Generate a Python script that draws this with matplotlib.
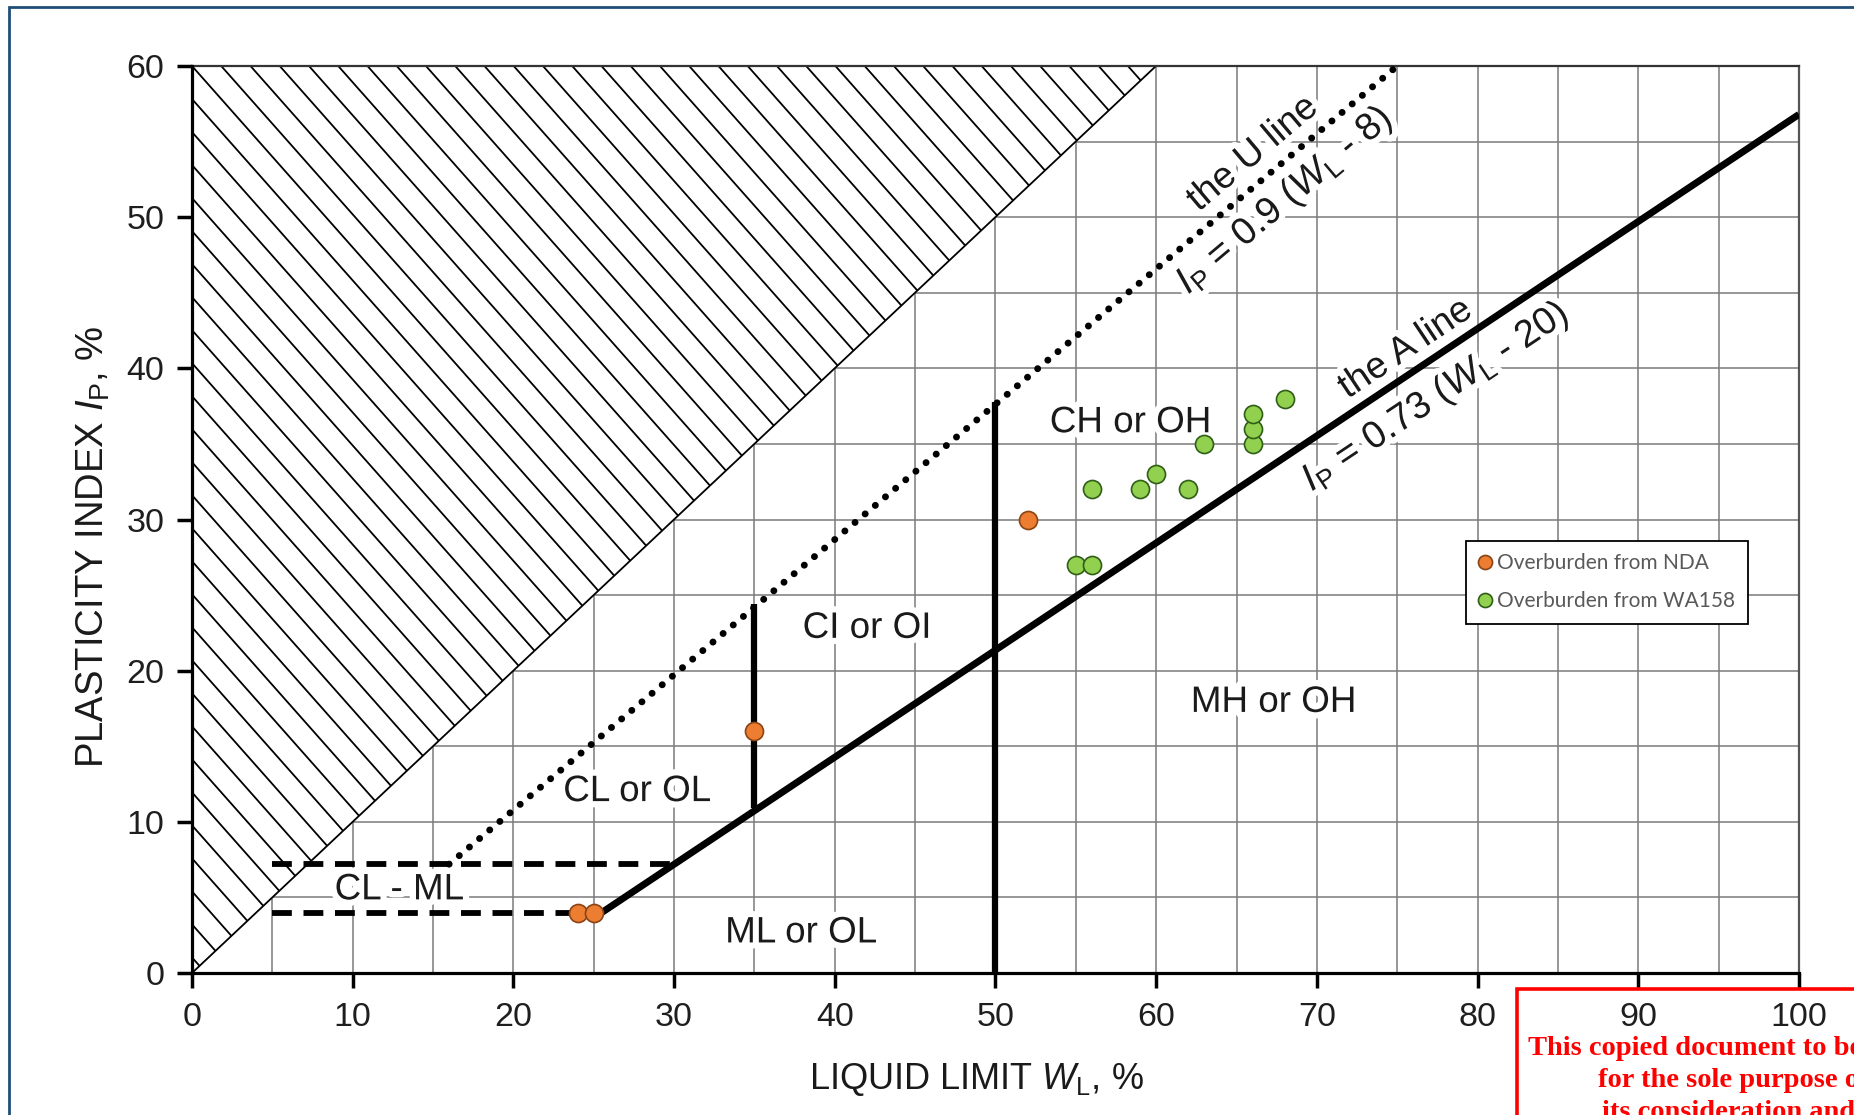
import numpy as np
import matplotlib.pyplot as plt
from matplotlib.patches import Polygon, Rectangle
import matplotlib.patheffects as pe

plt.rcParams['font.family'] = ['Liberation Sans', 'DejaVu Sans']
plt.rcParams['mathtext.fontset'] = 'custom'
plt.rcParams['mathtext.rm'] = 'Liberation Sans'
plt.rcParams['mathtext.it'] = 'Liberation Sans:italic'

# test results (liquid limit %, plasticity index %)
nda_wl = [24, 25, 35, 52]
nda_ip = [4, 4, 16, 30]
wa_wl = [55, 56, 56, 59, 60, 62, 63, 66, 66, 66, 68]
wa_ip = [27, 27, 32, 32, 33, 32, 35, 35, 36, 37, 38]

# chart boundary lines
u_wl = [16, 75]
u_ip = [7.2, 60]
a_wl = [25.5, 100]
a_ip = [4, 56.8]
hatch_wl = [0, 0, 60]
hatch_ip = [0, 60, 60]
ci_wl = [35, 35]
ci_ip = [10.9, 24.4]
ch_wl = [50, 50]
ch_ip = [0, 37.8]
clml_top_wl = [5, 30]
clml_top_ip = [7.2, 7.2]
clml_bot_wl = [5, 25]
clml_bot_ip = [4, 4]

zones = ['CH or OH', 'CI or OI', 'MH or OH', 'CL or OL', 'CL - ML', 'ML or OL']
zone_wl = [58.4, 42.0, 67.3, 27.7, 12.9, 37.9]
zone_ip = [36.4, 22.8, 17.9, 12.0, 5.5, 2.65]

halo = [pe.withStroke(linewidth=9, foreground='white')]

fig = plt.figure(figsize=(18.54, 11.15), dpi=100)
ax = fig.add_axes([0.10356, 0.12735, 0.86677, 0.81346])
ax.set_xlim(0, 100)
ax.set_ylim(0, 60)

ax.set_xticks(np.arange(0, 101, 10))
ax.set_yticks(np.arange(0, 61, 10))
ax.set_xticks(np.arange(0, 101, 5), minor=True)
ax.set_yticks(np.arange(0, 61, 5), minor=True)
ax.set_axisbelow(True)
ax.grid(which='both', color='#7a7a7a', lw=1.1)
ax.tick_params(which='major', length=11, width=2.5, labelsize=24.5, labelcolor='#1e1e1e')
ax.tick_params(axis='x', which='major', pad=10)
ax.tick_params(axis='y', which='major', pad=9)
ax.tick_params(which='minor', length=0)
for s in ['left', 'bottom']:
    ax.spines[s].set_linewidth(2.3)
    ax.spines[s].set_zorder(6)
ax.spines['top'].set_color('#333333')
ax.spines['top'].set_linewidth(1.6)
ax.spines['right'].set_color('#555555')
ax.spines['right'].set_linewidth(1.6)

# hatched "impossible" region
tri = Polygon(np.column_stack([hatch_wl, hatch_ip]), closed=True, facecolor='white',
              edgecolor='black', lw=1.3, zorder=1.5)
ax.add_patch(tri)
step = 1.82
slope = 1.2
for x0 in np.arange(-30, 34) * step:
    ln, = ax.plot([x0 - 10, x0 + 60], [60 + 10 * slope, 60 - 60 * slope],
                  color='black', lw=1.3, zorder=1.6)
    ln.set_clip_path(tri)

# U line, A line and zone boundaries
ax.plot(u_wl, u_ip, color='black', lw=5, dashes=(0.01, 1.9), dash_capstyle='round', zorder=3)
ax.plot(a_wl, a_ip, color='black', lw=5, solid_capstyle='butt', zorder=3)
ax.plot(ci_wl, ci_ip, color='black', lw=4.5, solid_capstyle='butt', zorder=3)
ax.plot(ch_wl, ch_ip, color='black', lw=4.5, solid_capstyle='butt', zorder=3)
ax.plot(clml_top_wl, clml_top_ip, color='black', lw=4.2, dashes=(3.4, 2.0), zorder=3)
ax.plot(clml_bot_wl, clml_bot_ip, color='black', lw=4.2, dashes=(3.4, 2.0), zorder=3)

for name, x, y in zip(zones, zone_wl, zone_ip):
    ax.text(x, y, name, fontsize=26.5, ha='center', va='center', color='#1a1a1a',
            path_effects=halo, zorder=2.5)

u_ang = np.degrees(np.arctan2(u_ip[1] - u_ip[0], u_wl[1] - u_wl[0]))
a_ang = np.degrees(np.arctan2(a_ip[1] - a_ip[0], a_wl[1] - a_wl[0]))
line_labels = [
    ('the U line', 66.0, 54.2, u_ang, 27),
    (r'$\mathit{I}_{\mathrm{P}}$ = 0.9 ($\mathit{W}_{\mathrm{L}}$ - 8)', 68.0, 51.1, u_ang, 27.5),
    ('the A line', 75.5, 41.3, a_ang, 27),
    (r'$\mathit{I}_{\mathrm{P}}$ = 0.73 ($\mathit{W}_{\mathrm{L}}$ - 20)', 77.4, 38.1, a_ang, 27.5),
]
for txt, x, y, ang, fs in line_labels:
    ax.text(x, y, txt, fontsize=fs, ha='center', va='center', rotation=ang,
            rotation_mode='anchor', transform_rotates_text=True, color='#1a1a1a',
            path_effects=halo, zorder=2.5)

ax.plot(nda_wl, nda_ip, 'o', ms=13, mfc='#ED7D31', mec='#8a4416', mew=1.2,
        zorder=5, label='Overburden from NDA')
ax.plot(wa_wl, wa_ip, 'o', ms=13, mfc='#92D050', mec='#2f5e17', mew=1.2,
        zorder=5, label='Overburden from WA158')

leg = ax.legend(loc='upper left', bbox_to_anchor=(0.7907, 0.5148), bbox_transform=fig.transFigure,
                borderaxespad=0, fancybox=False, framealpha=1, edgecolor='black',
                prop={'family': 'Lato', 'size': 15}, labelcolor='#595959',
                markerscale=0.78, handlelength=0.6, handletextpad=0.3,
                labelspacing=0.85, borderpad=0.6)
leg.get_frame().set_linewidth(1.3)

ax.set_xlabel(r'LIQUID LIMIT $\mathit{W}_{\mathrm{L}}$, %', fontsize=26, color='#1a1a1a')
ax.xaxis.set_label_coords(0.488, -0.097)
ax.set_ylabel(r'PLASTICITY INDEX $\mathit{I}_{\mathrm{P}}$, %', fontsize=27.5, color='#1a1a1a')
ax.yaxis.set_label_coords(-0.05, 0.47)

# page border and copy notice
fig.patches.append(Rectangle((0.00485, -0.1), 1.2, 1.0937, transform=fig.transFigure,
                             fill=False, edgecolor='#1f4e79', lw=2))
fig.patches.append(Rectangle((0.8182, -0.1), 0.3, 0.213, transform=fig.transFigure,
                             fill=False, edgecolor='red', lw=2.6))
notice = ['This copied document to be made available',
          'for the sole purpose of enabling',
          'its consideration and review as']
notice_x = [0.8242, 0.8619, 0.8641]
notice_y = [0.0538, 0.0251, -0.0036]
for t, x, y in zip(notice, notice_x, notice_y):
    fig.text(x, y, t, fontsize=20.5, fontweight='bold', color='red',
             family='Liberation Serif', va='baseline', ha='left')

fig.savefig('out.png', dpi=100)
